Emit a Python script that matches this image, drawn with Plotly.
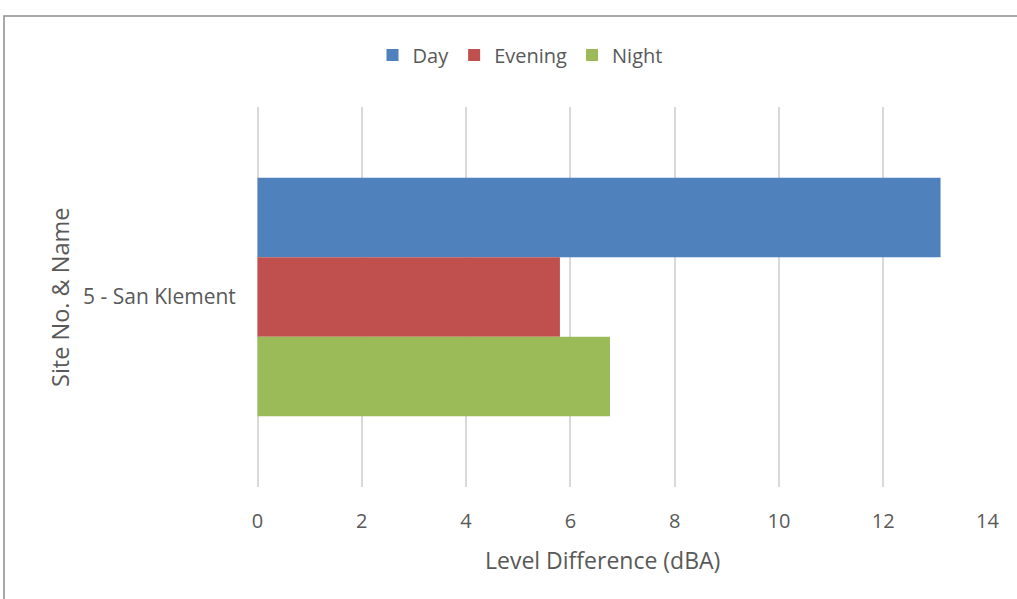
import plotly.graph_objects as go

# Level differences per period at the monitored site
sites = ["5 - San Klement"]
series_names = ["Day", "Evening", "Night"]
day_values = [13.1]
evening_values = [5.8]
night_values = [6.76]
x_ticks = [0, 2, 4, 6, 8, 10, 12, 14]
x_title = "Level Difference (dBA)"
y_title = "Site No. & Name"

colors = {"Day": "#4F81BD", "Evening": "#C0504D", "Night": "#9BBB59"}
series_values = {"Day": day_values, "Evening": evening_values, "Night": night_values}

FONT = "Open Sans, Liberation Sans, sans-serif"
TEXT = "#595959"

fig = go.Figure()
for name in series_names:
    fig.add_trace(go.Bar(
        y=sites,
        x=series_values[name],
        name=name,
        orientation="h",
        marker=dict(color=colors[name], line=dict(width=0)),
    ))

W, H = 1017, 599
L, R, T, B = 257, 29, 107, 112
pw, ph = W - L - R, H - T - B


def px_x(px):
    return (px - L) / pw


def px_y(py):
    return (H - B - py) / ph


fig.update_layout(
    width=W,
    height=H,
    margin=dict(l=L, r=R, t=T, b=B),
    paper_bgcolor="white",
    plot_bgcolor="white",
    barmode="group",
    bargap=0.373,
    bargroupgap=0,
    font=dict(family=FONT, color=TEXT, size=20),
    showlegend=True,
    legend=dict(
        orientation="h",
        x=px_x(520),
        xanchor="center",
        y=px_y(55),
        yanchor="middle",
        font=dict(size=20, color=TEXT),
        itemwidth=30,
        traceorder="normal",
    ),
    xaxis=dict(
        range=[-0.01, 14.01],
        tickvals=x_ticks,
        showgrid=True,
        gridcolor="#D9D9D9",
        gridwidth=1.5,
        zeroline=True,
        zerolinecolor="#D9D9D9",
        zerolinewidth=1.5,
        showline=False,
        ticks="outside",
        ticklen=16,
        tickcolor="rgba(0,0,0,0)",
        tickfont=dict(size=20, color=TEXT),
    ),
    yaxis=dict(
        autorange="reversed",
        showgrid=False,
        zeroline=False,
        showline=False,
        ticks="outside",
        ticklen=16,
        tickcolor="rgba(0,0,0,0)",
        tickfont=dict(size=21, color=TEXT),
    ),
    annotations=[
        dict(text=x_title, xref="paper", yref="paper", x=px_x(602), y=px_y(560),
             xanchor="center", yanchor="middle", showarrow=False,
             font=dict(size=23, color=TEXT)),
        dict(text=y_title, xref="paper", yref="paper", x=px_x(60), y=px_y(297),
             xanchor="center", yanchor="middle", showarrow=False, textangle=-90,
             font=dict(size=23.5, color=TEXT)),
    ],
)

# Chart-area frame
fig.add_shape(
    type="rect",
    xref="paper", yref="paper",
    x0=px_x(4), x1=px_x(W + 20),
    y0=px_y(H + 20), y1=px_y(16),
    line=dict(color="#8C8C8C", width=1.5),
    fillcolor="rgba(0,0,0,0)",
    layer="below",
)

fig.write_html("out.html")
